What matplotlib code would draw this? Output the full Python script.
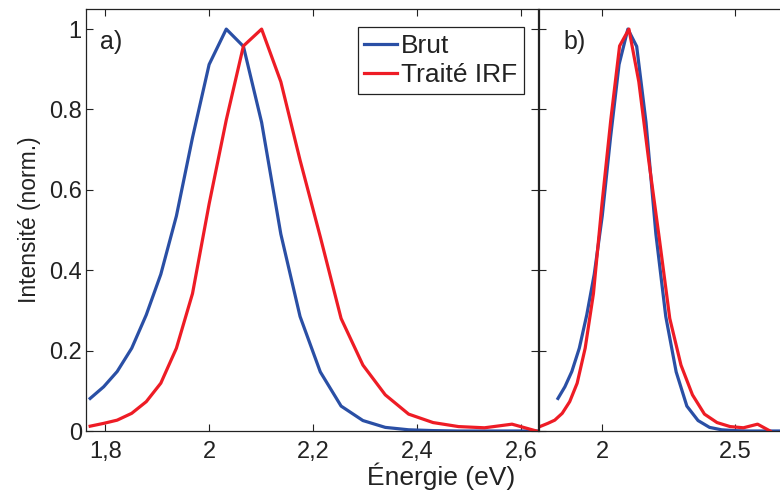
import matplotlib.pyplot as plt

# energies (eV) of the sampled points, panel a (and red curve of panel b)
energy = [1.771, 1.797, 1.823, 1.851, 1.879, 1.907, 1.937, 1.968, 2.000, 2.033,
          2.066, 2.101, 2.138, 2.175, 2.214, 2.254, 2.296, 2.339, 2.384, 2.431,
          2.480, 2.530, 2.583, 2.630]

brut = [0.081, 0.110, 0.148, 0.206, 0.289, 0.390, 0.535, 0.730, 0.912, 1.000,
        0.957, 0.768, 0.490, 0.285, 0.147, 0.062, 0.026, 0.009, 0.003, 0.001,
        0.000, 0.000, 0.000, 0.000]

traite = [0.012, 0.019, 0.027, 0.044, 0.073, 0.119, 0.206, 0.342, 0.565, 0.774,
          0.958, 1.000, 0.869, 0.674, 0.483, 0.280, 0.164, 0.090, 0.042, 0.021,
          0.011, 0.008, 0.017, 0.000]

# panel b: blue curve sits on its own energy axis
energy_b = [1.835, 1.861, 1.887, 1.915, 1.943, 1.971, 2.001, 2.032, 2.064, 2.097,
            2.130, 2.165, 2.202, 2.239, 2.278, 2.318, 2.360, 2.403, 2.448, 2.495,
            2.544, 2.594, 2.647, 2.702]

ticks_a = [1.8, 2.0, 2.2, 2.4, 2.6]
ticklabels_a = ["1,8", "2", "2,2", "2,4", "2,6"]
ticks_b = [2.0, 2.5]
ticklabels_b = ["2", "2.5"]
yticks = [0, 0.2, 0.4, 0.6, 0.8, 1.0]
yticklabels = ["0", "0.2", "0.4", "0.6", "0.8", "1"]

BLUE = "#2a4fa5"
RED = "#ee1c25"
INK = '#222222'

plt.rcParams['font.family'] = ['Liberation Sans', 'DejaVu Sans']
plt.rcParams['font.size'] = 17

fig = plt.figure(figsize=(7.8, 4.93), dpi=100)
W, H = 780.0, 493.0
ax1 = fig.add_axes([86 / W, (H - 431) / H, (538 - 86) / W, (431 - 9) / H])
ax2 = fig.add_axes([539 / W, (H - 431) / H, (800 - 539) / W, (431 - 9) / H])

lw = 2.3
ax1.plot(energy, brut, color=BLUE, lw=lw, label="Brut")
ax1.plot(energy, traite, color=RED, lw=lw, label="Traité IRF")
ax2.plot(energy_b, brut, color=BLUE, lw=lw)
ax2.plot(energy, traite, color=RED, lw=lw)

ax1.set_xlim(1.763, 2.633)
ax2.set_xlim(1.764, 2.742)
for ax in (ax1, ax2):
    ax.set_ylim(0, 1.05)
    ax.set_yticks(yticks)
    ax.tick_params(direction='in', top=True, right=True, length=5, width=0.8,
                   colors=INK, labelcolor=INK)
    ax.tick_params(axis='x', pad=7)
    ax.tick_params(axis='y', pad=3)
    for s in ax.spines.values():
        s.set_linewidth(0.9)
        s.set_color(INK)

ax1.set_xticks(ticks_a)
ax1.set_xticklabels(ticklabels_a)
ax1.set_yticklabels(yticklabels)
ax2.set_xticks(ticks_b)
ax2.set_xticklabels(ticklabels_b)
ax2.set_yticklabels([])

ax1.set_ylabel("Intensité (norm.)", labelpad=6, fontsize=16.5, color=INK)
fig.text(441 / W, 1 - 476 / H, "Énergie (eV)", ha='center', va='center',
         color=INK, fontsize=19)

ax1.text(0.03, 0.905, "a)", transform=ax1.transAxes, color=INK, fontsize=18)
ax2.text(0.095, 0.905, "b)", transform=ax2.transAxes, color=INK, fontsize=18)

leg = ax1.legend(loc='upper right', bbox_to_anchor=(0.969, 0.957), fancybox=False,
                 framealpha=1, edgecolor=INK, handlelength=1.25,
                 handletextpad=0.15, borderpad=0.25, labelspacing=0.2,
                 borderaxespad=0, fontsize=19)
leg.get_frame().set_linewidth(0.9)
for t in leg.get_texts():
    t.set_color(INK)

fig.savefig("out.png", dpi=100)
